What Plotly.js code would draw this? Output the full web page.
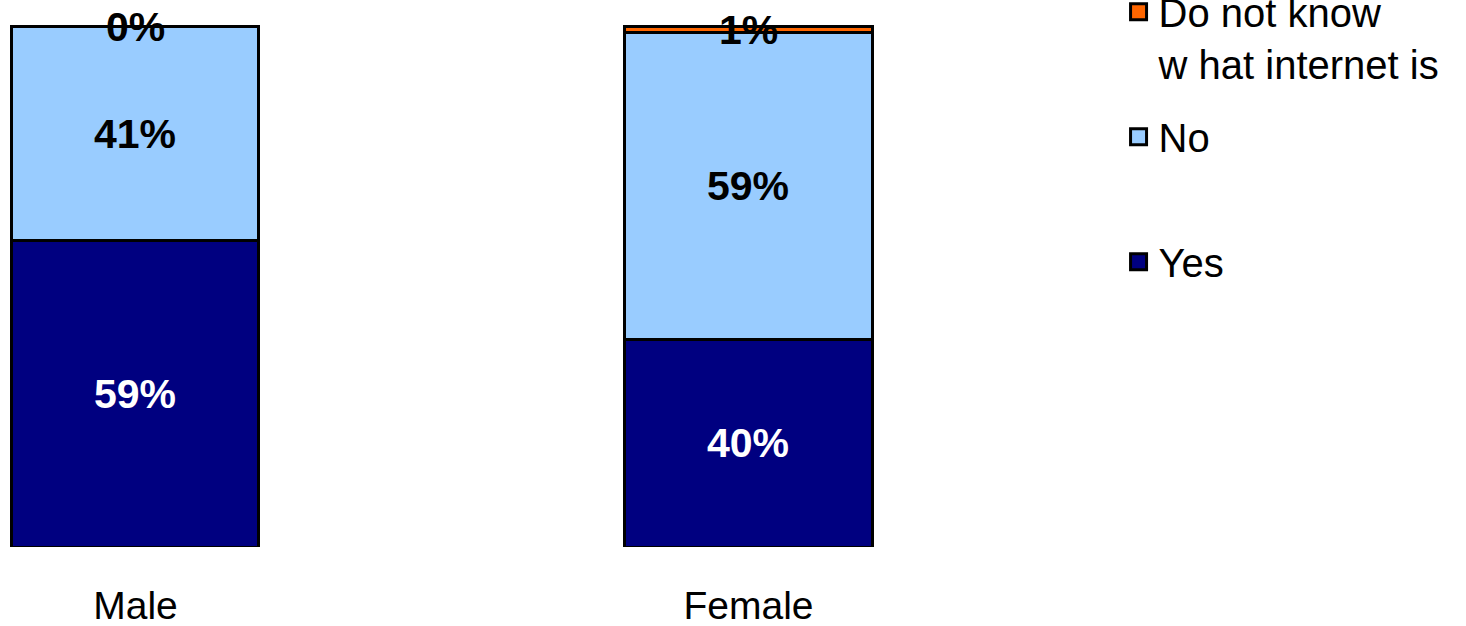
<!DOCTYPE html>
<html><head><meta charset="utf-8">
<script src="https://cdn.plot.ly/plotly-3.0.1.min.js"></script>
<style>html,body{margin:0;padding:0;background:#fff}#chart{width:1466px;height:626px}</style>
</head><body><div id="chart"></div>
<script>
const categories = ["Male", "Female"];
const yesValues = [59, 40];
const noValues = [41, 59];
const dnkValues = [0, 1];
const seriesNames = ["Yes<br>&nbsp;", "No<br>&nbsp;", "Do not know<br>w hat internet is"];
const seriesColors = ["#000080", "#99CCFF", "#FF6600"];

const FONT = "Liberation Sans, Arial, sans-serif";
const series = [yesValues, noValues, dnkValues];
const traces = series.map((vals, i) => ({
  type: "bar", x: categories, y: vals, name: seriesNames[i],
  marker: {color: seriesColors[i], line: {color: "#000", width: 3}},
  showlegend: false, hoverinfo: "skip"
}));
// legend entries (no data drawn) with larger square swatches
series.forEach((vals, i) => {
  traces.push({
    type: "scatter", mode: "markers", x: [null], y: [null], name: seriesNames[i],
    marker: {symbol: "square", size: 16, color: seriesColors[i], line: {color: "#000", width: 3}},
    legendgroup: "g" + i, legendrank: 3 - i, hoverinfo: "skip"
  });
});

// labels at segment midpoints
const annotations = [];
categories.forEach((c, ci) => {
  let base = 0;
  series.forEach((vals, si) => {
    const v = vals[ci];
    annotations.push({
      x: c, y: base + v / 2, xref: "x", yref: "y", text: v + "%",
      showarrow: false,
      font: {family: FONT, size: 41, color: si === 0 ? "#fff" : "#000", weight: "bold"}
    });
    base += v;
  });
});

const layout = {
  width: 1466, height: 626,
  margin: {l: 0, r: 0, t: 0, b: 79, autoexpand: false},
  paper_bgcolor: "#fff", plot_bgcolor: "#fff",
  barmode: "stack", bargap: 0.597,
  font: {family: FONT, color: "#000"},
  xaxis: {range: [-0.221, 2.1705], showgrid: false, zeroline: false, showline: false,
          ticks: "outside", ticklen: 24, tickcolor: "rgba(0,0,0,0)",
          tickfont: {family: FONT, size: 39, color: "#000"}, fixedrange: true},
  yaxis: {range: [0, 105.19], visible: false, fixedrange: true},
  showlegend: true,
  legend: {x: 0.763, y: 1.038, xanchor: "left", yanchor: "top", bgcolor: "rgba(0,0,0,0)",
           font: {family: FONT, size: 40, color: "#000"}, tracegroupgap: 18,
           itemsizing: "trace",
           traceorder: "grouped", valign: "top", itemclick: false, itemdoubleclick: false},
  annotations: annotations
};
Plotly.newPlot("chart", traces, layout, {staticPlot: true});
</script></body></html>
